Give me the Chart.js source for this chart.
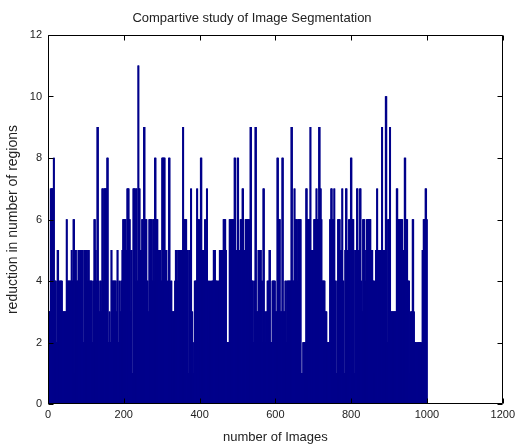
<!DOCTYPE html>
<html>
<head>
<meta charset="utf-8">
<script src="https://cdn.jsdelivr.net/npm/chart.js@4.4.1/dist/chart.umd.min.js"></script>
<style>
  html, body { margin: 0; padding: 0; background: #fff; }
  #wrap { width: 519px; height: 445px; }
</style>
</head>
<body>
<div id="wrap"><canvas id="segChart" width="519" height="445"></canvas></div>
<script>
const chartTitle = 'Compartive study of Image Segmentation';
const xAxisLabel = 'number of Images';
const yAxisLabel = 'reduction in number of regions';
const xTickValues = [0, 200, 400, 600, 800, 1000, 1200];
const yTickValues = [0, 2, 4, 6, 8, 10, 12];

// reduction in regions for images 1..1000 (about 2-3 images per pixel)
const reductions = [
    3,3,3,3,3,3,7,7,7,7,7,7,7,7,8,8,4,4,4,4,4,
    2,2,2,5,5,5,1,1,4,4,4,4,4,4,4,4,3,3,3,3,3,
    3,3,3,3,3,3,6,6,4,4,4,4,4,4,4,4,4,4,4,5,5,
    4,4,4,6,6,6,1,1,5,5,5,4,4,4,4,4,5,5,5,4,4,
    5,5,5,5,5,5,5,5,2,2,2,5,5,5,5,5,5,5,5,4,4,
    5,5,5,4,4,4,4,4,4,4,4,2,2,2,4,4,6,6,6,5,5,
    4,4,4,9,9,9,4,4,3,3,3,4,4,4,3,3,7,7,7,4,4,
    7,7,7,7,7,7,7,7,8,8,8,2,2,2,3,3,2,2,2,5,5,
    4,4,4,4,4,4,4,4,4,4,4,3,3,3,5,5,2,2,2,4,4,
    3,3,3,4,4,4,5,5,6,6,6,6,6,6,6,6,5,5,5,7,7,
    7,7,7,6,6,6,3,3,5,5,5,1,1,1,7,7,7,7,7,4,4,
    7,7,7,4,4,4,11,11,7,7,7,5,5,5,5,5,6,6,6,5,5,
    9,9,9,6,6,6,6,6,4,4,4,3,3,3,6,6,6,6,6,6,6,
    4,4,4,6,6,6,4,4,8,8,8,6,6,6,6,6,5,5,5,4,4,
    5,5,5,4,4,4,8,8,8,8,8,8,8,8,5,5,5,5,5,3,3,
    4,4,4,8,8,8,3,3,4,4,4,3,3,3,3,3,3,3,3,4,4,
    5,5,5,4,4,4,5,5,5,5,5,5,5,5,5,5,5,5,5,9,9,
    6,6,6,6,6,6,6,6,5,5,5,1,1,1,5,5,5,5,5,7,7,
    3,3,3,1,1,1,2,2,4,4,4,4,4,4,7,7,6,6,6,6,6,
    5,5,5,8,8,8,5,5,5,5,5,5,5,5,6,6,5,5,5,7,7,
    4,4,4,2,2,2,4,4,3,3,3,4,4,4,4,4,5,5,5,5,5,
    4,4,4,4,4,4,3,3,4,4,4,5,5,5,5,5,5,5,5,5,5,
    6,6,6,6,6,6,5,5,2,2,2,2,2,2,2,2,6,6,6,6,6,
    6,6,6,6,6,6,6,6,8,8,8,5,5,5,1,1,8,8,8,5,5,
    5,5,5,6,6,6,6,6,7,7,7,5,5,5,5,5,6,6,6,6,6,
    6,6,6,6,6,6,4,4,9,9,9,4,4,4,4,4,2,2,2,4,4,
    9,9,9,3,3,3,3,3,5,5,5,5,5,5,5,5,4,4,4,2,2,
    7,7,7,3,3,3,2,2,3,3,3,4,4,4,4,4,5,5,5,2,2,
    2,2,2,4,4,4,4,4,4,4,4,3,3,3,3,3,8,8,8,6,6,
    6,6,6,3,3,3,3,3,8,8,8,3,3,3,3,3,4,4,4,2,2,
    4,4,4,4,4,4,4,4,4,4,4,9,9,9,4,4,4,4,4,7,7,
    6,6,6,6,6,6,4,4,6,6,6,6,6,6,6,6,1,1,1,1,1,
    2,2,2,2,2,2,2,2,7,7,7,6,6,6,6,6,6,6,6,9,9,
    5,5,5,5,5,5,5,5,6,6,6,6,6,6,7,7,6,6,6,6,6,
    9,9,9,7,7,7,6,6,4,4,4,4,4,4,4,4,3,3,3,3,3,
    2,2,2,2,2,2,2,2,6,6,6,7,7,7,6,6,6,6,6,7,7,
    4,4,4,1,1,1,4,4,6,6,6,6,6,6,5,5,5,5,5,7,7,
    4,4,4,1,1,1,5,5,7,7,7,5,5,5,5,5,6,6,6,6,6,
    8,8,8,6,6,6,6,6,1,1,1,5,5,5,5,5,7,7,7,5,5,
    5,5,5,7,7,7,4,4,3,3,3,6,6,6,6,6,4,4,4,5,5,
    6,6,6,6,6,6,6,6,6,6,6,5,5,5,5,5,4,4,4,4,4,
    1,1,1,5,5,5,7,7,5,5,5,5,5,5,5,5,5,5,5,9,9,
    5,5,5,5,5,5,5,5,10,10,10,2,2,2,6,6,6,6,6,9,9,
    3,3,3,3,3,3,3,3,3,3,3,3,3,3,3,3,7,7,7,6,6,
    6,6,6,6,6,6,6,6,6,6,6,5,5,5,5,5,8,8,8,6,6,
    6,6,6,4,4,4,4,4,1,1,1,3,3,3,3,3,6,6,6,3,3,
    2,2,2,2,2,2,1,1,2,2,2,2,2,2,2,2,2,2,2,1,1,
    5,5,5,6,6,6,6,6,7,7,7,6,6
];

const barColor = '#00008b';
const textColor = '#222';

Chart.defaults.font.family = '"Liberation Sans", Arial, sans-serif';
Chart.defaults.color = textColor;

// MATLAB style box with inward ticks on all four sides
const boxPlugin = {
    id: 'matlabBox',
    afterDraw(chart) {
        const { ctx, chartArea, scales } = chart;
        const left = Math.round(chartArea.left) + 0.5;
        const right = Math.round(chartArea.right) - 0.5;
        const top = Math.round(chartArea.top) + 0.5;
        const bottom = Math.round(chartArea.bottom) - 0.5;
        const tickLen = 5;
        ctx.save();
        ctx.strokeStyle = '#000';
        ctx.lineWidth = 1;
        ctx.beginPath();
        ctx.rect(left, top, right - left, bottom - top);
        xTickValues.forEach(v => {
            const px = Math.round(scales.x.getPixelForValue(v)) + 0.5;
            ctx.moveTo(px, bottom);
            ctx.lineTo(px, bottom - tickLen);
            ctx.moveTo(px, top);
            ctx.lineTo(px, top + tickLen);
        });
        yTickValues.forEach(v => {
            const py = Math.round(scales.y.getPixelForValue(v)) + 0.5;
            ctx.moveTo(left, py);
            ctx.lineTo(left + tickLen, py);
            ctx.moveTo(right, py);
            ctx.lineTo(right - tickLen, py);
        });
        ctx.stroke();
        ctx.restore();
    }
};

const ctx = document.getElementById('segChart').getContext('2d');
new Chart(ctx, {
    type: 'bar',
    data: {
        datasets: [{
            data: reductions.map((v, i) => ({ x: i + 1, y: v })),
            backgroundColor: barColor,
            borderWidth: 0,
            barThickness: 1
        }]
    },
    options: {
        responsive: false,
        animation: false,
        layout: { padding: { left: 0, right: 15, top: 0, bottom: 0 } },
        scales: {
            x: {
                type: 'linear',
                min: 0,
                max: 1200,
                offset: false,
                afterBuildTicks: scale => { scale.ticks = xTickValues.map(v => ({ value: v })); },
                afterFit: scale => { scale.height = 41; },
                grid: { display: false, drawTicks: false },
                border: { display: false },
                ticks: {
                    autoSkip: false,
                    maxRotation: 0,
                    padding: 4,
                    color: textColor,
                    font: { size: 11 },
                    callback: value => String(value)
                },
                title: {
                    display: true,
                    text: xAxisLabel,
                    color: textColor,
                    font: { size: 13 },
                    padding: { top: 0, bottom: 0 }
                }
            },
            y: {
                min: 0,
                max: 12,
                afterBuildTicks: scale => { scale.ticks = yTickValues.map(v => ({ value: v })); },
                afterFit: scale => { scale.width = 48; },
                grid: { display: false, drawTicks: false },
                border: { display: false },
                ticks: {
                    padding: 6,
                    color: textColor,
                    font: { size: 11 },
                    callback: value => String(value)
                },
                title: {
                    display: true,
                    text: yAxisLabel,
                    color: textColor,
                    font: { size: 14 },
                    padding: { top: 5, bottom: 0 }
                }
            }
        },
        plugins: {
            legend: { display: false },
            tooltip: { enabled: false },
            title: {
                display: true,
                text: chartTitle,
                color: textColor,
                font: { size: 13, weight: 'normal' },
                padding: { top: 11, bottom: 8.4 }
            }
        }
    },
    plugins: [boxPlugin]
});
</script>
</body>
</html>
